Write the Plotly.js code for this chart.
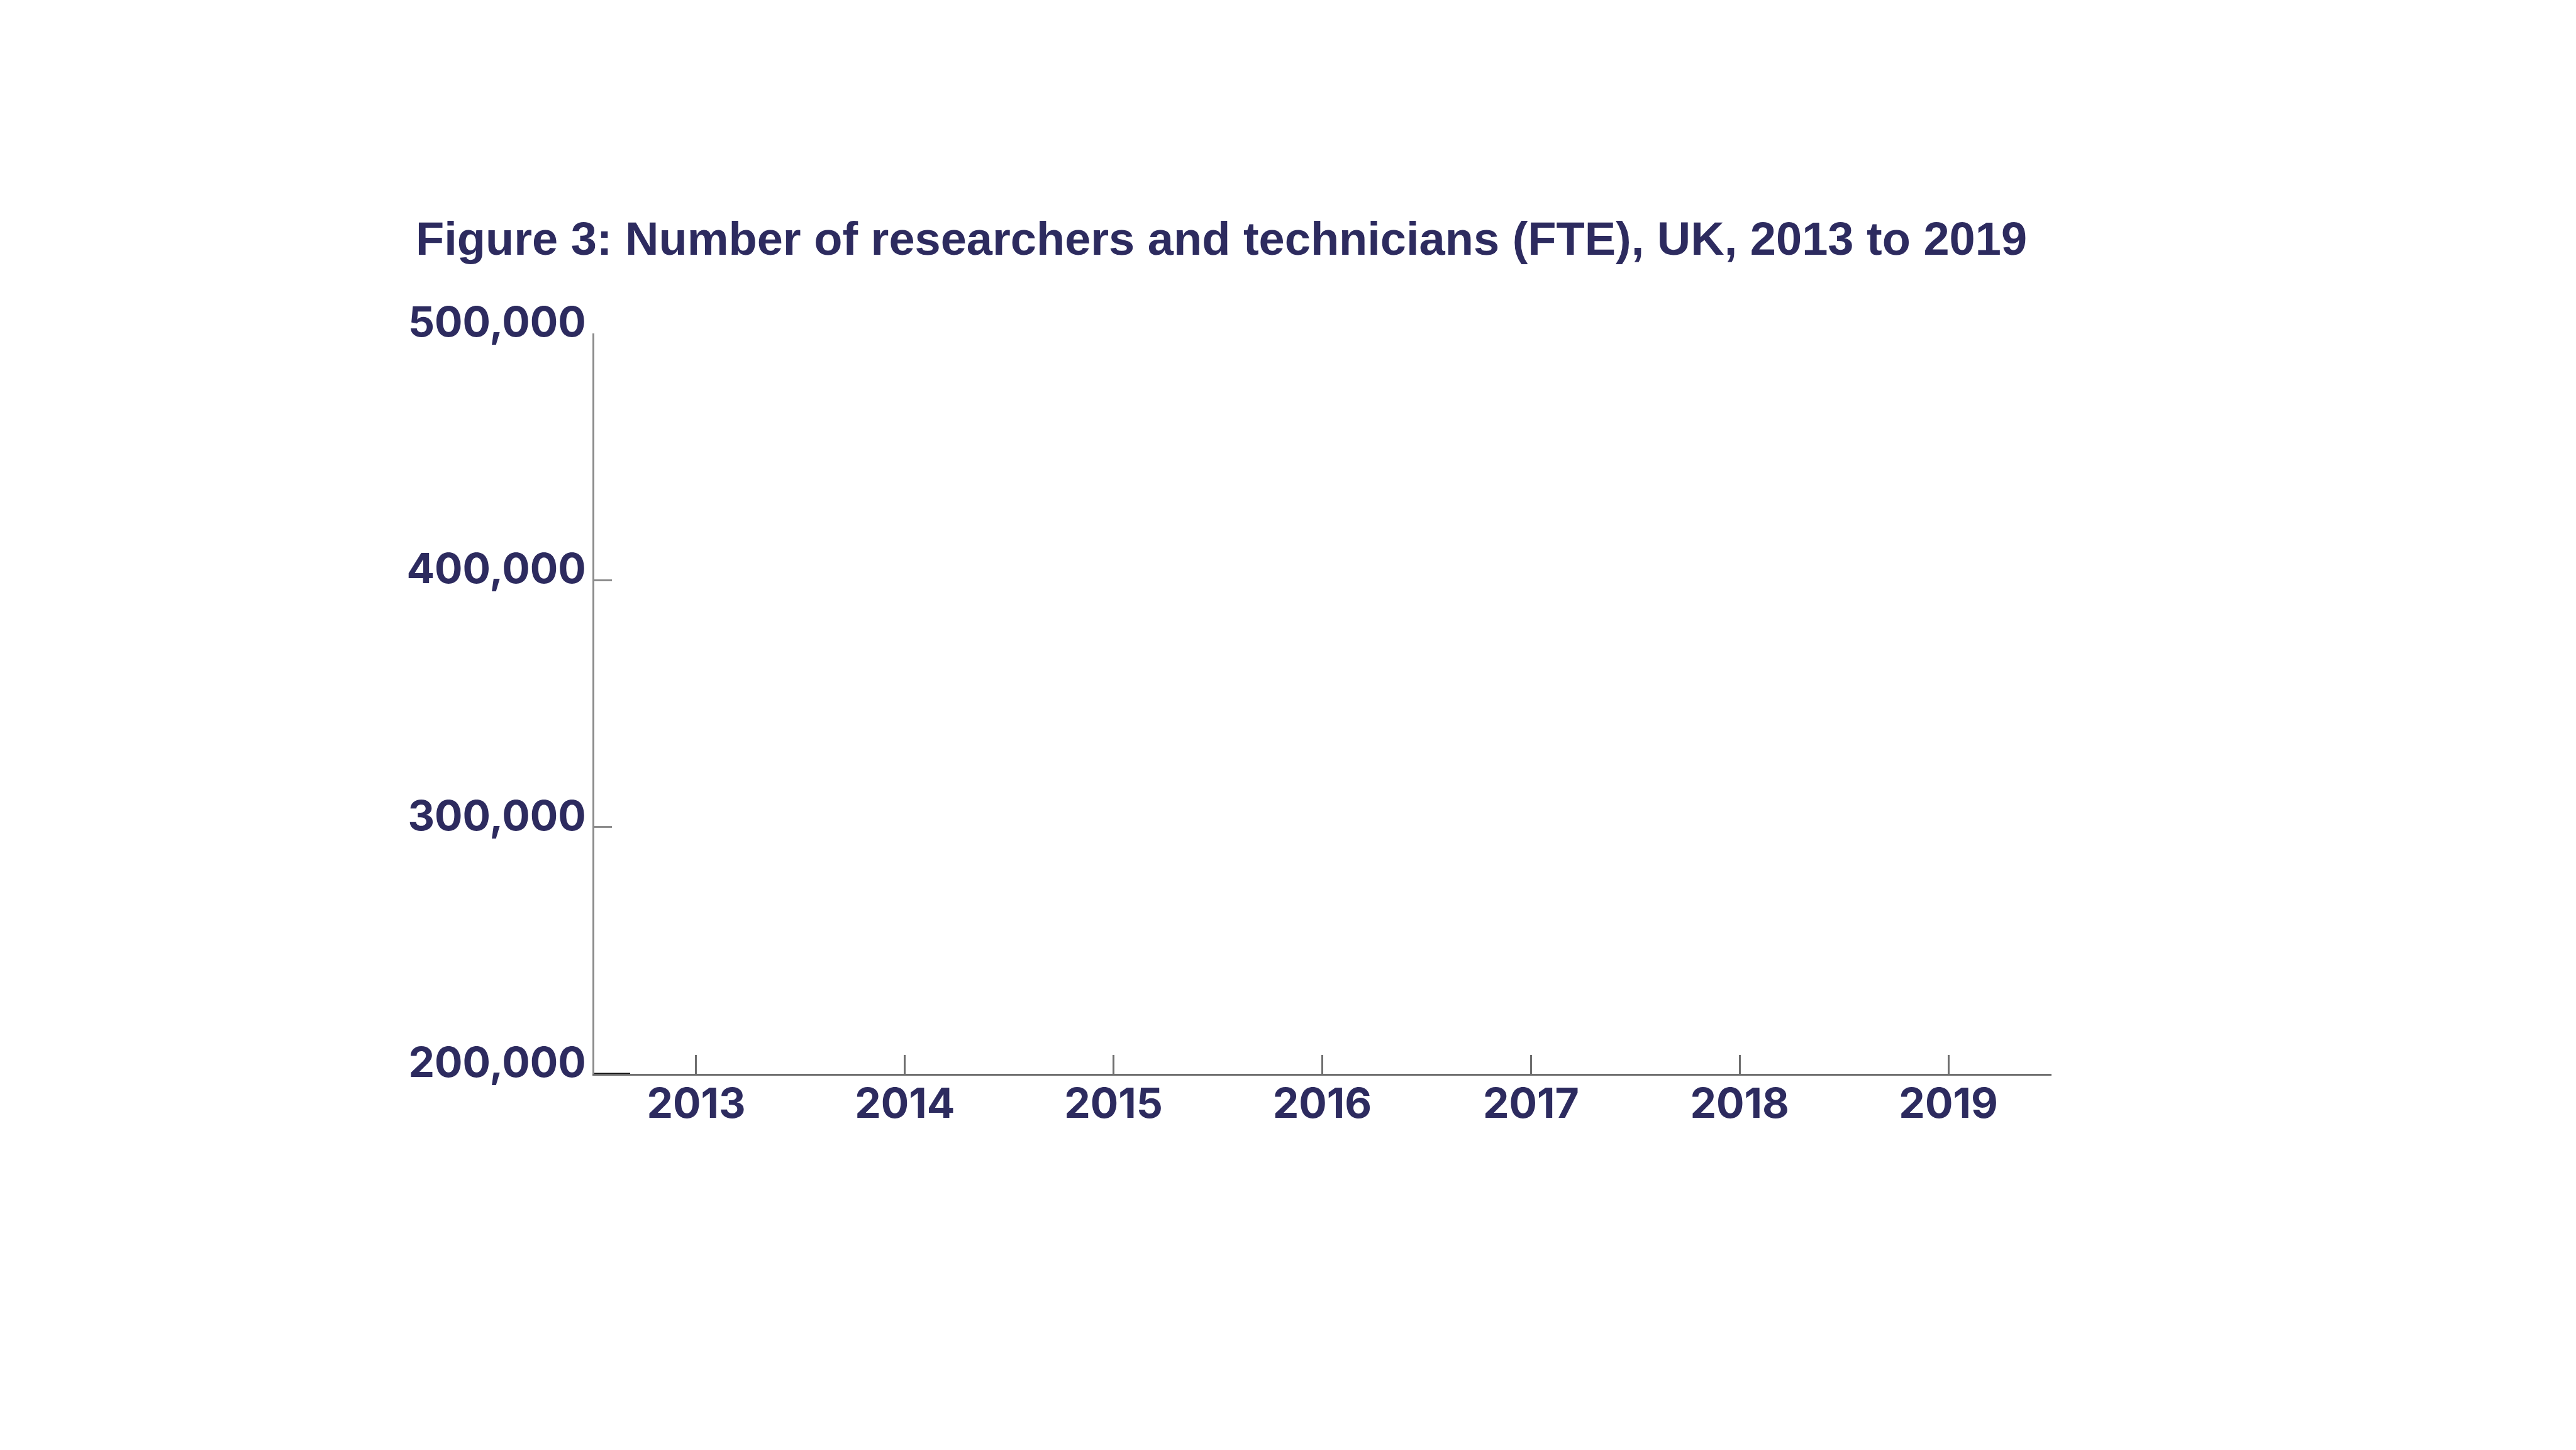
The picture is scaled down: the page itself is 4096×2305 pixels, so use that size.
<!DOCTYPE html>
<html>
<head>
<meta charset="utf-8">
<script src="https://cdn.plot.ly/plotly-3.0.1.min.js"></script>
<style>
html,body{margin:0;padding:0;background:#fff;}
#chart{width:4096px;height:2305px;}
</style>
</head>
<body>
<div id="chart"></div>
<script>
// Data (the reference chart shows empty axes: no series are drawn)
const years = [2013, 2014, 2015, 2016, 2017, 2018, 2019];
const researchersFTE = [null, null, null, null, null, null, null];
const yTickValues = [200000, 300000, 400000, 500000];
const yTickLabels = ['200,000', '300,000', '400,000', '500,000'];
const xTickLabels = ['2013', '2014', '2015', '2016', '2017', '2018', '2019'];
const chartTitle = 'Figure 3: Number of researchers and technicians (FTE), UK, 2013 to 2019';

const navy = '#2d2b5f';
const titleFont = '"Liberation Sans", Arial, sans-serif';
const tickFontFam = 'Inter, "Liberation Sans", sans-serif';

const traces = [{
  x: years,
  y: researchersFTE,
  type: 'scatter',
  mode: 'lines',
  line: {color: navy, width: 6},
  showlegend: false,
  hoverinfo: 'skip'
}];

const layout = {
  width: 4096,
  height: 2305,
  paper_bgcolor: '#ffffff',
  plot_bgcolor: '#ffffff',
  margin: {l: 945, r: 834, t: 530, b: 598, pad: 0},
  showlegend: false,
  title: {
    text: '<b>' + chartTitle + '</b>',
    font: {family: titleFont, size: 74, color: navy},
    xref: 'container', x: 661 / 4096, xanchor: 'left',
    yref: 'container', y: 1 - 379 / 2305, yanchor: 'middle'
  },
  xaxis: {
    type: 'linear',
    range: [2012.512, 2019.494],
    tickmode: 'array',
    tickvals: years,
    ticktext: xTickLabels.map(t => '<b>' + t + '</b>'),
    ticks: 'inside',
    ticklen: 30,
    tickwidth: 3,
    tickcolor: '#6e6e6e',
    showline: true,
    linecolor: '#6e6e6e',
    linewidth: 3,
    showgrid: false,
    zeroline: false,
    tickfont: {family: tickFontFam, size: 66, color: navy},
    ticklabelstandoff: -12,
    fixedrange: true
  },
  yaxis: {
    range: [200000, 500000],
    tickmode: 'array',
    tickvals: yTickValues,
    ticktext: yTickLabels.map(t => '<b>' + t + '</b>'),
    ticks: 'inside',
    ticklen: 28,
    tickwidth: 3,
    tickcolor: '#8c8c8c',
    showline: true,
    linecolor: '#8c8c8c',
    linewidth: 3,
    showgrid: false,
    zeroline: false,
    tickfont: {family: tickFontFam, size: 66, color: navy},
    ticklabelstandoff: -3,
    ticklabelshift: -18,
    fixedrange: true
  },
  shapes: [{
    type: 'line',
    xref: 'paper', yref: 'y',
    x0: 0, x1: 57 / 2317,
    y0: yTickValues[0], y1: yTickValues[0],
    line: {color: '#111111', width: 3},
    layer: 'above'
  }]
};

Plotly.newPlot('chart', traces, layout, {displayModeBar: false, staticPlot: true});
</script>
</body>
</html>
